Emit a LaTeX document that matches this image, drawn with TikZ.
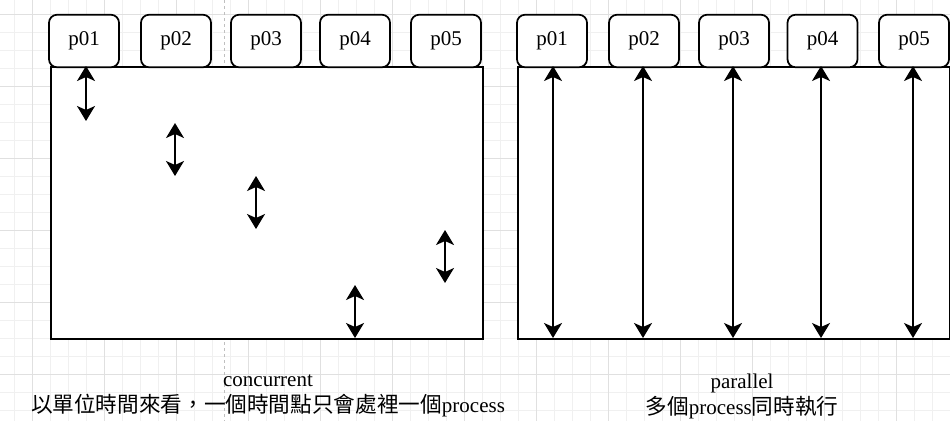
\documentclass[tikz,border=0pt]{standalone}
\usepackage{fontspec}
\setmainfont{Liberation Serif}
\newfontfamily\cjk[Scale=1.03]{Noto Sans CJK TC}
\usetikzlibrary{arrows.meta}
\tikzset{
  gridminor/.style={line width=1pt, black!6},
  gridmajor/.style={line width=1pt, black!12},
  pagebreak/.style={line width=1pt, black!25, dash pattern=on 3pt off 3pt},
  frame/.style={draw, line width=1.75pt, fill=white, anchor=north west,
    minimum width=432pt, minimum height=272pt, inner sep=0pt},
  proc/.style={draw, line width=1.75pt, fill=white, rounded corners=8pt,
    minimum width=70pt, minimum height=52.5pt, inner sep=0pt,
    font=\fontsize{21}{25}\selectfont},
  slice/.style={line width=1.75pt,
    {Stealth[length=15pt,width=18pt,inset=4pt]}-{Stealth[length=15pt,width=18pt,inset=4pt]}},
  caption/.style={align=center, font=\fontsize{21}{26}\selectfont}
}
\begin{document}
\begin{tikzpicture}[x=1pt,y=-1pt]
\useasboundingbox (0,0) rectangle (950,421);
% background grid
\foreach \x in {14,32,...,950} \draw[gridminor] (\x,0) -- (\x,421);
\foreach \y in {14,32,...,421} \draw[gridminor] (0,\y) -- (950,\y);
\foreach \x in {32,104,...,950} \draw[gridmajor] (\x,0) -- (\x,421);
\foreach \y in {14,86,...,421} \draw[gridmajor] (0,\y) -- (950,\y);
\draw[pagebreak] (224,0) -- (224,421);

% concurrent
\node[frame] (conc) at (50,66) {};
\node[proc] (c1) at (84,41) {p01};
\node[proc] (c2) at (176,41) {p02};
\node[proc] (c3) at (266,41) {p03};
\node[proc] (c4) at (355,41) {p04};
\node[proc] (c5) at (446,41) {p05};
\coordinate (ca1) at (86,66);   \coordinate (cb1) at (86,121);
\coordinate (ca2) at (175,123); \coordinate (cb2) at (175,176);
\coordinate (ca3) at (256,176); \coordinate (cb3) at (256,229);
\coordinate (ca4) at (445,230); \coordinate (cb4) at (445,283);
\coordinate (ca5) at (355,285); \coordinate (cb5) at (355,338);
\foreach \i in {1,...,5} \draw[slice] (ca\i) -- (cb\i);
\node[caption] (conclabel) at (268,396)
  {concurrent\\{\cjk 以單位時間來看，一個時間點只會處裡一個}process};

% parallel
\node[frame] (par) at (517,66) {};
\node[proc] (q1) at (552,41) {p01};
\node[proc] (q2) at (644,41) {p02};
\node[proc] (q3) at (734,41) {p03};
\node[proc] (q4) at (822.5,41) {p04};
\node[proc] (q5) at (914,41) {p05};
\foreach \i/\x in {1/553,2/643,3/733,4/821,5/913}
  \draw[slice] (\x,66) coordinate (pa\i) -- (\x,338) coordinate (pb\i);
\node[caption] (parlabel) at (742,396)
  {parallel\\{\cjk 多個}process{\cjk 同時執行}};
\end{tikzpicture}
\end{document}
